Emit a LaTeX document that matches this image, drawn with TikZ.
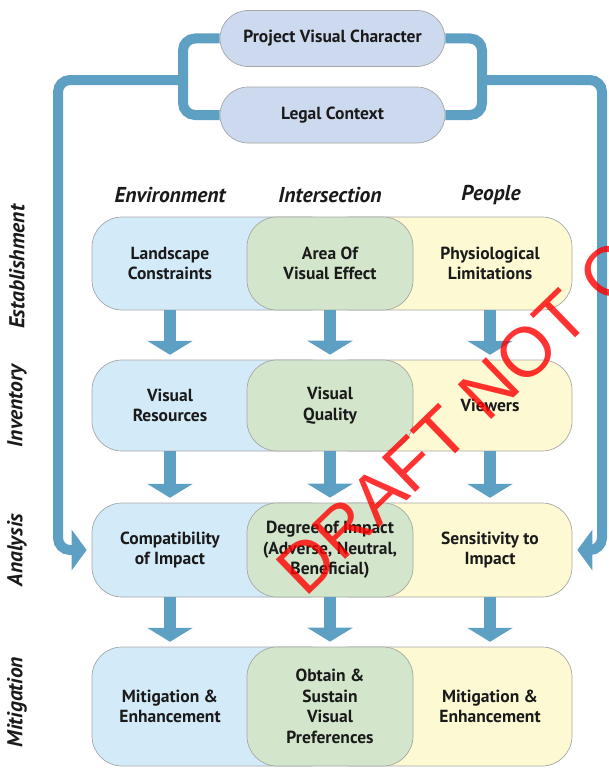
\documentclass[tikz,border=0pt]{standalone}
\usepackage{fontspec}
\setmainfont{PT Sans}
\newfontfamily\wmfont{Liberation Sans}
\usetikzlibrary{arrows.meta}

\definecolor{pipeblue}{HTML}{5E9FC4}
\definecolor{pillfill}{HTML}{CDD9EE}
\definecolor{envfill}{HTML}{D3EAF8}
\definecolor{intfill}{HTML}{D3E6CC}
\definecolor{peofill}{HTML}{FDF9D2}
\definecolor{edgegray}{HTML}{A6A6A6}
\definecolor{inkgray}{HTML}{1A1A1A}

\begin{document}
\begin{tikzpicture}[x=1pt,y=-1pt,
    every node/.style={text=inkgray,align=center,inner sep=0pt,font=\bfseries\fontsize{17.5}{20.5}\selectfont},
    hdr/.style={font=\bfseries\itshape\fontsize{21.5}{21.5}\selectfont},
    pill/.style={draw=edgegray,line width=0.7pt,fill=pillfill,rounded corners=28pt,minimum width=225pt,minimum height=56pt},
    envbox/.style={draw=edgegray,line width=0.7pt,fill=envfill,rounded corners=30pt,minimum width=248pt,minimum height=#1},
    peobox/.style={draw=edgegray,line width=0.7pt,fill=peofill,rounded corners=30pt,minimum width=252pt,minimum height=#1},
    intbox/.style={draw=edgegray,line width=0.7pt,fill=intfill,rounded corners=30pt,minimum width=166pt,minimum height=#1},
    cell/.style={minimum width=150pt,minimum height=#1},
    pipe/.style={draw=pipeblue,line width=10pt,rounded corners=12pt},
    drop/.style={draw=pipeblue,line width=12pt,-{Triangle[width=45pt,length=14pt]},shorten >=5pt}]
    \useasboundingbox (0,0) rectangle (608,768);  % page size

    % the two context pills at the top
    \node[pill] (pvc) at (332.5,38.5) {Project Visual Character};
    \node[pill] (legal) at (332.5,115) {Legal Context};

    % column headings
    \node[hdr] (envhead) at (170,195) {Environment};
    \node[hdr] (inthead) at (330,195) {Intersection};
    \node[hdr] (peohead) at (491,195) {People};

    % row headings, turned
    \node[hdr,rotate=90] (estab) at (17,267) {Establishment};
    \node[hdr,rotate=90] (inv) at (17,406) {Inventory};
    \node[hdr,rotate=90] (ana) at (17,550) {Analysis};
    \node[hdr,rotate=90] (miti) at (17,702) {Mitigation};

    % row 1: establishment
    \node[peobox=93pt] (peo1bg) at (446,263.5) {};
    \node[envbox=93pt] (env1bg) at (216,263.5) {};
    \node[intbox=93pt] (int1) at (330,263.5) {Area Of\\Visual Effect};
    \node[cell=93pt] (env1) at (170,263.5) {Landscape\\Constraints};
    \node[cell=93pt] (peo1) at (490,263.5) {Physiological\\Limitations};

    % row 2: inventory
    \node[peobox=91pt] (peo2bg) at (446,405.5) {};
    \node[envbox=91pt] (env2bg) at (216,405.5) {};
    \node[intbox=91pt] (int2) at (330,405.5) {Visual\\Quality};
    \node[cell=91pt] (env2) at (170,405.5) {Visual\\Resources};
    \node[cell=91pt] (peo2) at (490,405.5) {Viewers};

    % row 3: analysis
    \node[peobox=94pt] (peo3bg) at (446,550) {};
    \node[envbox=94pt] (env3bg) at (216,550) {};
    \node[intbox=94pt] (int3) at (330,550) {Degree of Impact\\(Adverse, Neutral,\\Beneficial)};
    \node[cell=94pt] (env3) at (170,550) {Compatibility\\of Impact};
    \node[cell=94pt] (peo3) at (490,550) {Sensitivity to\\Impact};

    % row 4: mitigation
    \node[peobox=119pt] (peo4bg) at (446,706.5) {};
    \node[envbox=119pt] (env4bg) at (216,706.5) {};
    \node[intbox=119pt] (int4) at (330,706.5) {Obtain \&\\Sustain\\Visual\\Preferences};
    \node[cell=119pt] (env4) at (170,706.5) {Mitigation \&\\Enhancement};
    \node[cell=119pt] (peo4) at (490,706.5) {Mitigation \&\\Enhancement};

    % brackets round the pills and the long feeds into analysis
    \coordinate (ljoin) at (183,80);
    \coordinate (rjoin) at (482,80);
    \draw[pipe] (pvc.west) -| (ljoin) |- (legal.west);
    \draw[pipe] (pvc.east) -| (rjoin) |- (legal.east);
    \draw[pipe,-{Triangle[width=40pt,length=15pt]},shorten >=5pt] (ljoin) -| (58,550) -- (env3bg.west);
    \draw[pipe,-{Triangle[width=40pt,length=15pt]},shorten >=5pt] (rjoin) -| (602,550) -- (peo3bg.east);

    % block arrows between the rows
    \draw[drop] (env1.south) -- (env2.north);
    \draw[drop] (int1.south) -- (int2.north);
    \draw[drop] (peo1.south) -- (peo2.north);
    \draw[drop] (env2.south) -- (env3.north);
    \draw[drop] (int2.south) -- (int3.north);
    \draw[drop] (peo2.south) -- (peo3.north);
    \draw[drop] (env3.south) -- (env4.north);
    \draw[drop] (int3.south) -- (int4.north);
    \draw[drop] (peo3.south) -- (peo4.north);

    % watermark across the right side
    \node[rotate=44,text=red,opacity=0.8,font=\wmfont\fontsize{70}{70}\selectfont] (draft) at (458,418) {DRAFT NOT C};
\end{tikzpicture}
\end{document}
